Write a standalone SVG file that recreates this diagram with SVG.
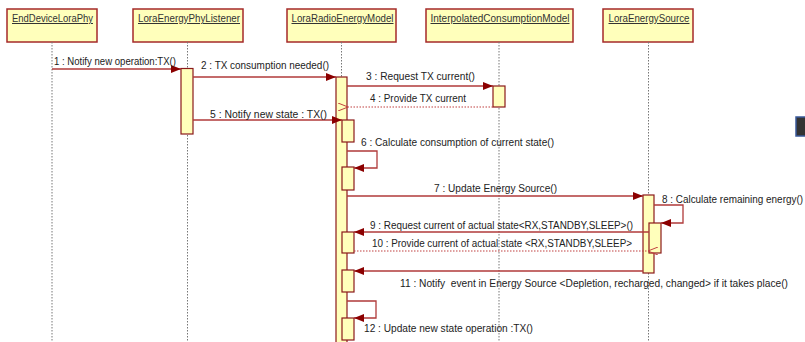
<svg xmlns="http://www.w3.org/2000/svg" width="805" height="342" viewBox="0 0 805 342">
<style>
.hdr{fill:#ffffbb;stroke:#a52a2a;stroke-width:1.5}
.ht{font-family:"Liberation Sans",Arial,sans-serif;font-size:10px;fill:#333;text-anchor:middle;text-decoration:underline}
.life{stroke:#777;stroke-width:1;stroke-dasharray:1.5,1.5;fill:none}
.bar{fill:#ffffbb;stroke:#8b1a1a;stroke-width:1.2}
.msg{stroke:#b03a3a;stroke-width:1.3;fill:none}
.ret{stroke:#c04040;stroke-width:1.2;stroke-dasharray:1.5,1.5;fill:none}
.lbl{font-family:"Liberation Sans",Arial,sans-serif;font-size:10px;fill:#222;white-space:pre}
</style>
<defs>
<marker id="fa" markerWidth="10" markerHeight="8" refX="10" refY="4" orient="auto" markerUnits="userSpaceOnUse">
<path d="M0,0 L10,4 L0,8 Z" fill="#8b0000"/>
</marker>
<marker id="oa" markerWidth="10" markerHeight="8" refX="0" refY="4" orient="auto-start-reverse" markerUnits="userSpaceOnUse">
<path d="M10,0 L0,4 L10,8" fill="none" stroke="#c04040" stroke-width="1"/>
</marker>
</defs>
<rect width="805" height="342" fill="#fff"/>
<g id="EndDeviceLoraPhy">
<rect class="hdr" x="7" y="9" width="90" height="33"/>
<text class="ht" x="52.5" y="22" textLength="81" lengthAdjust="spacingAndGlyphs">EndDeviceLoraPhy</text>
<line class="life" x1="52" y1="42" x2="52" y2="342"/>
</g>
<g id="LoraEnergyPhyListener">
<rect class="hdr" x="133" y="9" width="110" height="33"/>
<text class="ht" x="189" y="22" textLength="102" lengthAdjust="spacingAndGlyphs">LoraEnergyPhyListener</text>
<line class="life" x1="187.5" y1="42" x2="187.5" y2="342"/>
<rect class="bar" x="181" y="68.5" width="12" height="65.5"/>
</g>
<g id="LoraRadioEnergyModel">
<rect class="hdr" x="287" y="9" width="109" height="33"/>
<text class="ht" x="342.5" y="22" textLength="102" lengthAdjust="spacingAndGlyphs">LoraRadioEnergyModel</text>
<line class="life" x1="341.5" y1="42" x2="341.5" y2="342"/>
<rect class="bar" x="336" y="77" width="11" height="270"/>
<rect class="bar" x="342" y="120" width="12" height="22"/>
<rect class="bar" x="342" y="167" width="12" height="23"/>
<rect class="bar" x="342" y="232" width="12" height="21"/>
<rect class="bar" x="342" y="270" width="12" height="22"/>
<rect class="bar" x="342" y="318" width="12" height="22"/>
</g>
<g id="InterpolatedConsumptionModel">
<rect class="hdr" x="426" y="9" width="147" height="33"/>
<text class="ht" x="500" y="22" textLength="139" lengthAdjust="spacingAndGlyphs">InterpolatedConsumptionModel</text>
<line class="life" x1="499" y1="42" x2="499" y2="342"/>
<rect class="bar" x="493" y="86" width="12" height="21"/>
</g>
<g id="LoraEnergySource">
<rect class="hdr" x="603" y="9" width="90" height="33"/>
<text class="ht" x="649" y="22" textLength="81" lengthAdjust="spacingAndGlyphs">LoraEnergySource</text>
<line class="life" x1="648.5" y1="42" x2="648.5" y2="342"/>
<rect class="bar" x="643" y="195" width="11" height="78"/>
<rect class="bar" x="649" y="223" width="12" height="30"/>
</g>
<g id="connectors">
<line class="msg" x1="52" y1="69" x2="181" y2="69" marker-end="url(#fa)"/>
<line class="msg" x1="193" y1="77" x2="336" y2="77" marker-end="url(#fa)"/>
<line class="msg" x1="347" y1="86" x2="493" y2="86" marker-end="url(#fa)"/>
<line class="ret" x1="493" y1="107" x2="348" y2="107" marker-end="url(#oa)"/>
<line class="msg" x1="193" y1="120" x2="342" y2="120" marker-end="url(#fa)"/>
<path class="msg" d="M347,151 H377 V168 H354" marker-end="url(#fa)"/>
<line class="msg" x1="347" y1="196" x2="643" y2="196" marker-end="url(#fa)"/>
<path class="msg" d="M654,205 H683 V223 H661" marker-end="url(#fa)"/>
<line class="msg" x1="649" y1="232" x2="354" y2="232" marker-end="url(#fa)"/>
<line class="ret" x1="354" y1="251" x2="648" y2="251" marker-end="url(#oa)"/>
<line class="msg" x1="643" y1="271" x2="354" y2="271" marker-end="url(#fa)"/>
<path class="msg" d="M347,301 H376 V318 H354" marker-end="url(#fa)"/>
</g>
<g id="labels">
<text class="lbl" x="54" y="65" textLength="122" lengthAdjust="spacingAndGlyphs">1 : Notify new operation:TX()</text>
<text class="lbl" x="201" y="69" textLength="128" lengthAdjust="spacingAndGlyphs">2 : TX consumption needed()</text>
<text class="lbl" x="366" y="80" textLength="109" lengthAdjust="spacingAndGlyphs">3 : Request TX current()</text>
<text class="lbl" x="370" y="102" textLength="96" lengthAdjust="spacingAndGlyphs">4 : Provide TX current</text>
<text class="lbl" x="210" y="118" textLength="117" lengthAdjust="spacingAndGlyphs">5 : Notify new state : TX()</text>
<text class="lbl" x="361" y="146" textLength="193" lengthAdjust="spacingAndGlyphs">6 : Calculate consumption of current state()</text>
<text class="lbl" x="434" y="192" textLength="123" lengthAdjust="spacingAndGlyphs">7 : Update Energy Source()</text>
<text class="lbl" x="662" y="203" textLength="141" lengthAdjust="spacingAndGlyphs">8 : Calculate remaining energy()</text>
<text class="lbl" x="370" y="229" textLength="263" lengthAdjust="spacingAndGlyphs">9 : Request current of actual state&lt;RX,STANDBY,SLEEP&gt;()</text>
<text class="lbl" x="372" y="247" textLength="260" lengthAdjust="spacingAndGlyphs">10 : Provide current of actual state &lt;RX,STANDBY,SLEEP&gt;</text>
<text class="lbl" x="400" y="287" textLength="388" lengthAdjust="spacingAndGlyphs">11 : Notify  event in Energy Source &lt;Depletion, recharged, changed&gt; if it takes place()</text>
<text class="lbl" x="364" y="332" textLength="169" lengthAdjust="spacingAndGlyphs">12 : Update new state operation :TX()</text>
</g>
<rect x="796" y="117" width="10" height="19" fill="#333" stroke="#3a5a9a" stroke-width="1.5"/>
</svg>
